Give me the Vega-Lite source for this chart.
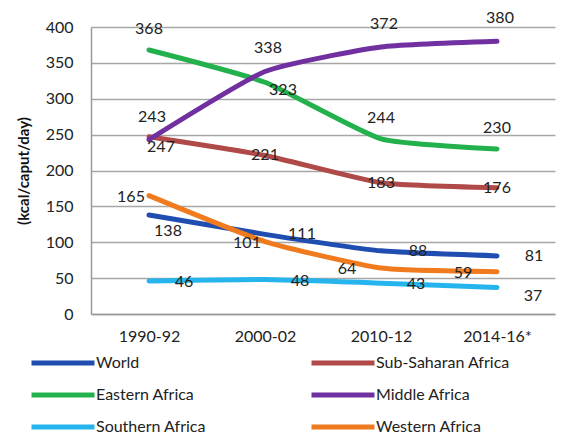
{
  "$schema": "https://vega.github.io/schema/vega-lite/v6.json",
  "width": 464,
  "height": 287,
  "autosize": {"type": "none"},
  "padding": {"left": 91, "top": 27, "right": 19, "bottom": 121},
  "background": "white",
  "config": {
    "font": "Lato",
    "view": {"stroke": null},
    "axis": {"labelFont": "Lato", "labelColor": "#222", "titleColor": "#111"}
  },
  "data": {
    "values": [
      {"period": "1990-92", "series": "World", "value": 138},
      {"period": "2000-02", "series": "World", "value": 111},
      {"period": "2010-12", "series": "World", "value": 88},
      {"period": "2014-16*", "series": "World", "value": 81},
      {"period": "1990-92", "series": "Sub-Saharan Africa", "value": 247},
      {"period": "2000-02", "series": "Sub-Saharan Africa", "value": 221},
      {"period": "2010-12", "series": "Sub-Saharan Africa", "value": 183},
      {"period": "2014-16*", "series": "Sub-Saharan Africa", "value": 176},
      {"period": "1990-92", "series": "Eastern Africa", "value": 368},
      {"period": "2000-02", "series": "Eastern Africa", "value": 323},
      {"period": "2010-12", "series": "Eastern Africa", "value": 244},
      {"period": "2014-16*", "series": "Eastern Africa", "value": 230},
      {"period": "1990-92", "series": "Middle Africa", "value": 243},
      {"period": "2000-02", "series": "Middle Africa", "value": 338},
      {"period": "2010-12", "series": "Middle Africa", "value": 372},
      {"period": "2014-16*", "series": "Middle Africa", "value": 380},
      {"period": "1990-92", "series": "Southern Africa", "value": 46},
      {"period": "2000-02", "series": "Southern Africa", "value": 48},
      {"period": "2010-12", "series": "Southern Africa", "value": 43},
      {"period": "2014-16*", "series": "Southern Africa", "value": 37},
      {"period": "1990-92", "series": "Western Africa", "value": 165},
      {"period": "2000-02", "series": "Western Africa", "value": 101},
      {"period": "2010-12", "series": "Western Africa", "value": 64},
      {"period": "2014-16*", "series": "Western Africa", "value": 59}
    ]
  },
  "encoding": {
    "x": {
      "field": "period", "type": "ordinal",
      "scale": {"type": "point", "padding": 0.5},
      "axis": {
        "title": null, "labelAngle": 0, "labelFontSize": 16, "labelPadding": 14,
        "ticks": false, "domainColor": "#9a9a9a", "domainWidth": 1.5, "grid": false
      }
    },
    "y": {
      "field": "value", "type": "quantitative",
      "scale": {"domain": [0, 400], "nice": false},
      "axis": {
        "title": "(kcal/caput/day)", "titleFontSize": 15, "titleFontWeight": "bold", "titlePadding": 14,
        "values": [0, 50, 100, 150, 200, 250, 300, 350, 400],
        "labelFontSize": 16, "labelPadding": 18, "ticks": false,
        "domainColor": "#9a9a9a", "domainWidth": 1.5,
        "grid": true, "gridColor": "#a6a6a6", "gridWidth": 1.5
      }
    }
  },
  "layer": [
    {
      "mark": {"type": "line", "strokeWidth": 5, "interpolate": "cardinal", "tension": 0.5, "strokeCap": "round"},
      "encoding": {
        "color": {
          "field": "series", "type": "nominal",
          "scale": {
            "domain": ["World", "Sub-Saharan Africa", "Eastern Africa", "Middle Africa", "Southern Africa", "Western Africa"],
            "range": ["#1f4db0", "#b04a48", "#22b14c", "#7030a0", "#25b4ec", "#f07a1e"]
          },
          "legend": {
            "title": null, "orient": "none", "legendX": -41, "legendY": 323,
            "direction": "horizontal", "columns": 2, "symbolType": "M-3,0H3",
            "symbolSize": 441, "symbolStrokeWidth": 5, "labelFontSize": 16,
            "labelFont": "Lato", "labelColor": "#222", "labelOffset": 20,
            "rowPadding": 9, "columnPadding": 71, "gridAlign": "all", "labelLimit": 300
          }
        }
      }
    },
    {
      "transform": [{"filter": "datum.series == 'Eastern Africa' && datum.value != 323"}],
      "mark": {"type": "text", "fontSize": 16, "color": "#222", "dy": -21},
      "encoding": {"text": {"field": "value"}}
    },
    {
      "transform": [{"filter": "datum.series == 'Eastern Africa' && datum.value == 323"}],
      "mark": {"type": "text", "fontSize": 16, "color": "#222", "dx": 18, "dy": 8},
      "encoding": {"text": {"field": "value"}}
    },
    {
      "transform": [{"filter": "datum.series == 'Middle Africa'"}],
      "mark": {"type": "text", "fontSize": 16, "color": "#222", "dx": 3, "dy": -23},
      "encoding": {"text": {"field": "value"}}
    },
    {
      "transform": [{"filter": "datum.series == 'Sub-Saharan Africa' && datum.value != 247"}],
      "mark": {"type": "text", "fontSize": 16, "color": "#222"},
      "encoding": {"text": {"field": "value"}}
    },
    {
      "transform": [{"filter": "datum.series == 'Sub-Saharan Africa' && datum.value == 247"}],
      "mark": {"type": "text", "fontSize": 16, "color": "#222", "dx": 12, "dy": 10},
      "encoding": {"text": {"field": "value"}}
    },
    {
      "transform": [{"filter": "datum.series == 'World' && datum.value != 138"}],
      "mark": {"type": "text", "fontSize": 16, "color": "#222", "dx": 37},
      "encoding": {"text": {"field": "value"}}
    },
    {
      "transform": [{"filter": "datum.series == 'World' && datum.value == 138"}],
      "mark": {"type": "text", "fontSize": 16, "color": "#222", "dx": 19, "dy": 16},
      "encoding": {"text": {"field": "value"}}
    },
    {
      "transform": [{"filter": "datum.series == 'Western Africa' && datum.value > 100"}],
      "mark": {"type": "text", "fontSize": 16, "color": "#222", "dx": -18, "dy": 1},
      "encoding": {"text": {"field": "value"}}
    },
    {
      "transform": [{"filter": "datum.series == 'Western Africa' && datum.value < 100"}],
      "mark": {"type": "text", "fontSize": 16, "color": "#222", "dx": -34, "dy": 1},
      "encoding": {"text": {"field": "value"}}
    },
    {
      "transform": [{"filter": "datum.series == 'Southern Africa' && datum.value != 37"}],
      "mark": {"type": "text", "fontSize": 16, "color": "#222", "dx": 35, "dy": 1},
      "encoding": {"text": {"field": "value"}}
    },
    {
      "transform": [{"filter": "datum.series == 'Southern Africa' && datum.value == 37"}],
      "mark": {"type": "text", "fontSize": 16, "color": "#222", "dx": 36, "dy": 9},
      "encoding": {"text": {"field": "value"}}
    }
  ]
}
